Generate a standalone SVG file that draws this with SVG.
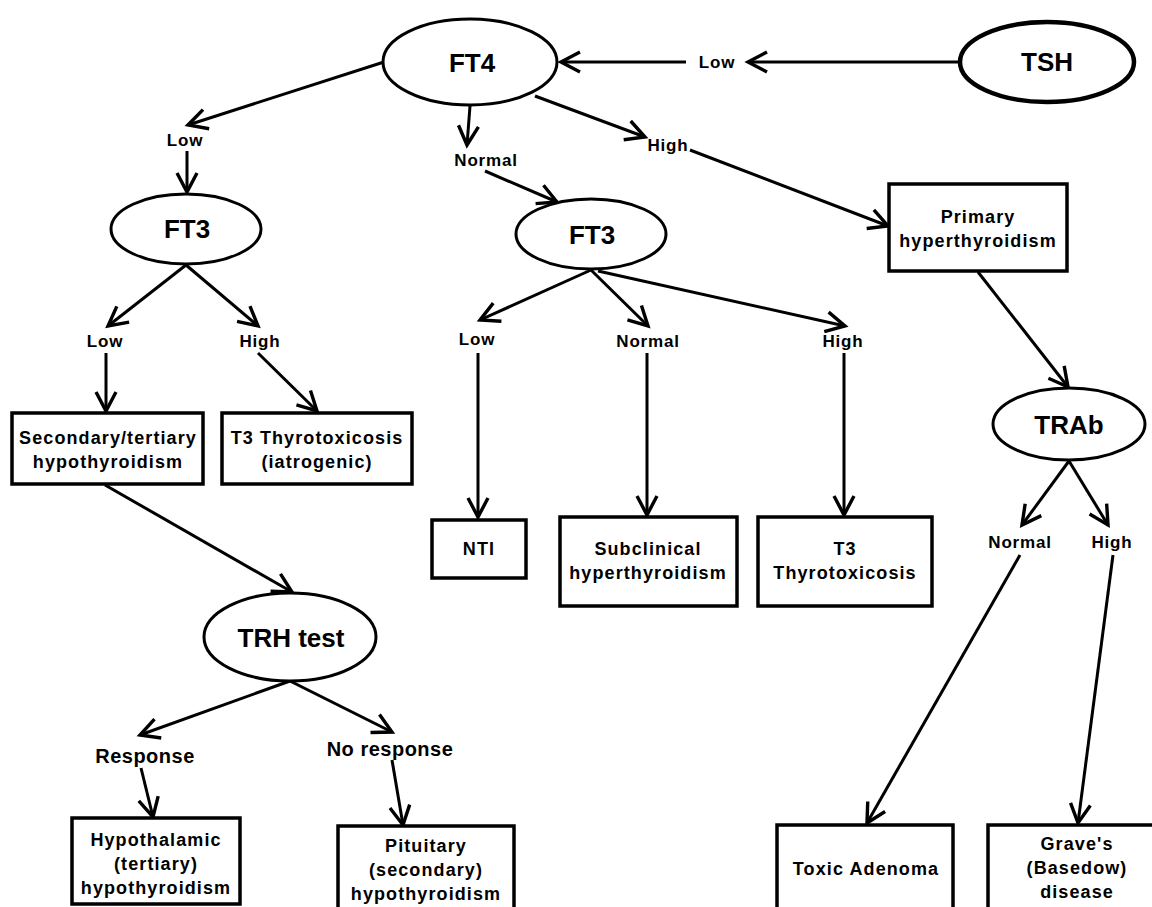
<svg xmlns="http://www.w3.org/2000/svg" width="1152" height="907" viewBox="0 0 1152 907">
<defs>
<marker id="ah" markerUnits="userSpaceOnUse" viewBox="-24 -13 28 26" markerWidth="28" markerHeight="26" refX="0" refY="0" orient="auto">
<path d="M-19,-10 L0,0 L-19,10" fill="none" stroke="#000" stroke-width="3.4" stroke-linejoin="miter"/>
</marker>
</defs>
<style>
.e{fill:#fff;stroke:#000;stroke-width:3}
.b{fill:#fff;stroke:#000;stroke-width:3.5}
.c line{stroke:#000;stroke-width:3;marker-end:url(#ah)}
text{font-family:"Liberation Sans",Arial,sans-serif;font-weight:bold;fill:#000;text-anchor:middle}
.big{font-size:26px}
.lb{font-size:17px;letter-spacing:0.8px}
.bx{font-size:18px;letter-spacing:1.1px}
.rs{font-size:20px;letter-spacing:0.5px}
</style>
<rect width="1152" height="907" fill="#fff"/>
<g class="c" id="connectors">
<line x1="960" y1="62" x2="748" y2="62"/>
<line x1="686" y1="62" x2="561" y2="62"/>
<line x1="384" y1="62" x2="188" y2="125"/>
<line x1="187" y1="151" x2="187" y2="192"/>
<line x1="186" y1="265" x2="108" y2="326"/>
<line x1="186" y1="265" x2="258" y2="326"/>
<line x1="106" y1="353" x2="106" y2="411"/>
<line x1="258" y1="353" x2="317" y2="411"/>
<line x1="105" y1="485" x2="292" y2="592"/>
<line x1="290" y1="681" x2="140" y2="735"/>
<line x1="290" y1="681" x2="392" y2="732"/>
<line x1="141" y1="768" x2="153" y2="817"/>
<line x1="392" y1="760" x2="403" y2="825"/>
<line x1="470" y1="106" x2="467" y2="145"/>
<line x1="485" y1="171" x2="557" y2="202"/>
<line x1="535" y1="96" x2="645" y2="137"/>
<line x1="690" y1="150" x2="888" y2="226"/>
<line x1="591" y1="270" x2="480" y2="320"/>
<line x1="591" y1="270" x2="648" y2="326"/>
<line x1="598" y1="271" x2="845" y2="326"/>
<line x1="478" y1="353" x2="478" y2="517"/>
<line x1="647" y1="353" x2="647" y2="515"/>
<line x1="844" y1="353" x2="844" y2="515"/>
<line x1="978" y1="272" x2="1068" y2="387"/>
<line x1="1069" y1="461" x2="1022" y2="525"/>
<line x1="1069" y1="461" x2="1108" y2="525"/>
<line x1="1020" y1="555" x2="867" y2="823"/>
<line x1="1113" y1="555" x2="1078" y2="823"/>
</g>
<g id="lbl-top-low"><text class="lb" x="717" y="68">Low</text></g>
<g id="lbl-ft4-low"><text class="lb" x="185" y="146">Low</text></g>
<g id="lbl-ft4-normal"><text class="lb" x="486" y="166">Normal</text></g>
<g id="lbl-ft4-high"><text class="lb" x="668" y="151">High</text></g>
<g id="lbl-ft3a-low"><text class="lb" x="105" y="347">Low</text></g>
<g id="lbl-ft3a-high"><text class="lb" x="260" y="347">High</text></g>
<g id="lbl-ft3b-low"><text class="lb" x="477" y="345">Low</text></g>
<g id="lbl-ft3b-normal"><text class="lb" x="648" y="347">Normal</text></g>
<g id="lbl-ft3b-high"><text class="lb" x="843" y="347">High</text></g>
<g id="lbl-trab-normal"><text class="lb" x="1020" y="548">Normal</text></g>
<g id="lbl-trab-high"><text class="lb" x="1112" y="548">High</text></g>
<g id="lbl-response"><text class="rs" x="145" y="763">Response</text></g>
<g id="lbl-noresponse"><text class="rs" x="390" y="756">No response</text></g>
<g id="tsh"><ellipse cx="1047" cy="62" rx="87" ry="40" fill="#fff" stroke="#000" stroke-width="4.5"/><text class="big" x="1047" y="71">TSH</text></g>
<g id="ft4"><ellipse class="e" cx="470" cy="62" rx="87" ry="43"/><text class="big" x="472" y="72">FT4</text></g>
<g id="ft3a"><ellipse class="e" cx="186" cy="229" rx="75" ry="35"/><text class="big" x="187" y="238">FT3</text></g>
<g id="ft3b"><ellipse class="e" cx="591" cy="234" rx="75" ry="35"/><text class="big" x="592" y="244">FT3</text></g>
<g id="trh"><ellipse class="e" cx="290" cy="637" rx="86" ry="44"/><text class="big" x="291" y="647">TRH test</text></g>
<g id="trab"><ellipse class="e" cx="1069" cy="424" rx="76" ry="36"/><text class="big" x="1069" y="434">TRAb</text></g>
<g id="primary"><rect class="b" x="889" y="184" width="178" height="87"/><text class="bx" x="978" y="223">Primary</text><text class="bx" x="978" y="247">hyperthyroidism</text></g>
<g id="secondary"><rect class="b" x="12" y="413" width="191" height="71"/><text class="bx" x="108" y="444">Secondary/tertiary</text><text class="bx" x="108" y="468">hypothyroidism</text></g>
<g id="t3iat"><rect class="b" x="222" y="413" width="190" height="71"/><text class="bx" x="317" y="444">T3 Thyrotoxicosis</text><text class="bx" x="317" y="468">(iatrogenic)</text></g>
<g id="nti"><rect class="b" x="432" y="520" width="94" height="58"/><text class="bx" x="479" y="555">NTI</text></g>
<g id="subclinical"><rect class="b" x="560" y="517" width="177" height="89"/><text class="bx" x="648" y="555">Subclinical</text><text class="bx" x="648" y="579">hyperthyroidism</text></g>
<g id="t3"><rect class="b" x="758" y="517" width="174" height="89"/><text class="bx" x="845" y="555">T3</text><text class="bx" x="845" y="579">Thyrotoxicosis</text></g>
<g id="hypothalamic"><rect class="b" x="72" y="818" width="168" height="86"/><text class="bx" x="156" y="846">Hypothalamic</text><text class="bx" x="156" y="870">(tertiary)</text><text class="bx" x="156" y="894">hypothyroidism</text></g>
<g id="pituitary"><rect class="b" x="338" y="826" width="176" height="90"/><text class="bx" x="426" y="852">Pituitary</text><text class="bx" x="426" y="876">(secondary)</text><text class="bx" x="426" y="900">hypothyroidism</text></g>
<g id="toxic"><rect class="b" x="777" y="825" width="176" height="92"/><text class="bx" x="866" y="875">Toxic Adenoma</text></g>
<g id="graves"><rect class="b" x="988" y="825" width="172" height="92"/><text class="bx" x="1077" y="850">Grave's</text><text class="bx" x="1077" y="874">(Basedow)</text><text class="bx" x="1077" y="898">disease</text></g>
</svg>
